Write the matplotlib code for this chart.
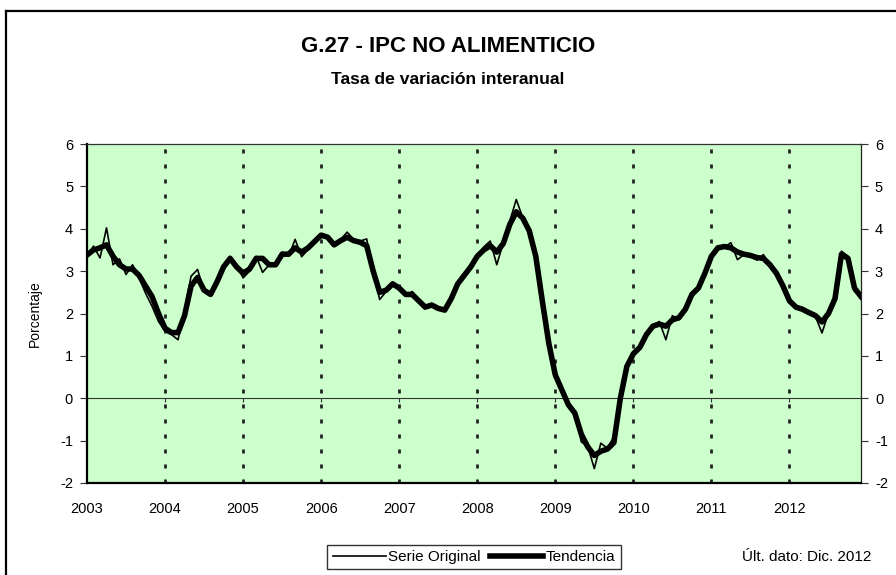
import matplotlib
matplotlib.use("Agg")
import matplotlib.pyplot as plt
from matplotlib.lines import Line2D

plt.rcParams['font.family'] = ['Liberation Sans', 'DejaVu Sans']
plt.rcParams['axes.unicode_minus'] = False

# datos mensuales ene-2003 .. dic-2012
years = [2003, 2004, 2005, 2006, 2007, 2008, 2009, 2010, 2011, 2012]

serie_original = [
    3.35, 3.59, 3.31, 4.02, 3.15, 3.29, 2.92, 3.15, 2.84, 2.48, 2.17, 1.81,
    1.58, 1.50, 1.38, 2.09, 2.88, 3.04, 2.52, 2.41, 2.80, 3.12, 3.35, 3.15,
    2.84, 3.00, 3.35, 2.97, 3.15, 3.13, 3.45, 3.35, 3.75, 3.34, 3.51, 3.75,
    3.86, 3.79, 3.59, 3.75, 3.92, 3.75, 3.71, 3.76, 2.96, 2.33, 2.52, 2.74,
    2.56, 2.41, 2.52, 2.33, 2.11, 2.21, 2.13, 2.05, 2.33, 2.72, 2.89, 3.08,
    3.35, 3.57, 3.71, 3.15, 3.67, 4.18, 4.69, 4.26, 4.00, 3.35, 2.33, 1.30,
    0.55, 0.20, -0.20, -0.32, -1.03, -1.14, -1.66, -1.06, -1.18, -0.91, 0.04, 0.75,
    1.06, 1.22, 1.54, 1.73, 1.81, 1.38, 1.95, 1.85, 2.12, 2.48, 2.60, 2.96,
    3.39, 3.59, 3.57, 3.67, 3.27, 3.39, 3.34, 3.26, 3.39, 3.12, 2.96, 2.64,
    2.26, 2.13, 2.09, 2.01, 1.93, 1.54, 2.01, 2.33, 3.47, 3.35, 2.52, 2.41,
]

tendencia = [
    3.38, 3.50, 3.55, 3.62, 3.35, 3.15, 3.05, 3.05, 2.90, 2.65, 2.40, 2.00,
    1.65, 1.55, 1.55, 1.95, 2.65, 2.85, 2.55, 2.45, 2.75, 3.10, 3.30, 3.10,
    2.95, 3.05, 3.30, 3.30, 3.15, 3.15, 3.40, 3.40, 3.55, 3.45, 3.55, 3.70,
    3.85, 3.80, 3.62, 3.72, 3.80, 3.72, 3.68, 3.60, 3.00, 2.50, 2.55, 2.70,
    2.60, 2.45, 2.45, 2.30, 2.15, 2.20, 2.12, 2.08, 2.35, 2.70, 2.90, 3.10,
    3.35, 3.50, 3.60, 3.45, 3.65, 4.10, 4.40, 4.25, 3.95, 3.35, 2.30, 1.30,
    0.55, 0.20, -0.15, -0.35, -0.85, -1.15, -1.35, -1.25, -1.20, -1.05, 0.00, 0.75,
    1.05, 1.20, 1.50, 1.70, 1.75, 1.70, 1.85, 1.90, 2.10, 2.45, 2.60, 2.95,
    3.35, 3.55, 3.58, 3.55, 3.45, 3.40, 3.37, 3.32, 3.30, 3.15, 2.95, 2.65,
    2.30, 2.15, 2.10, 2.02, 1.95, 1.80, 2.00, 2.35, 3.40, 3.30, 2.60, 2.40,
]

months = list(range(len(serie_original)))
year_pos = [12 * k for k in range(len(years))]

fig = plt.figure(figsize=(8.96, 5.75), dpi=100)
ax = fig.add_axes([87 / 896, 1 - 483 / 575, 774 / 896, 339 / 575])
ax.set_facecolor('#CCFFCC')

# lineas verticales punteadas en cada enero
for xp in year_pos[1:]:
    ax.axvline(xp, color='#222222', lw=2.0, linestyle=(0, (1.45, 3.95)), zorder=1)
ax.axhline(0, color='#333333', lw=0.8, zorder=1)
ax.vlines(year_pos[1:], -0.1, 0, color='#333333', lw=0.8, zorder=1)

ax.plot(months, tendencia, color='black', lw=4, solid_joinstyle='round', zorder=3, label='Tendencia')
ax.plot(months, serie_original, color='black', lw=1.2, zorder=4, label='Serie Original')

ax.set_xlim(0, 119)
ax.set_ylim(-2, 6)
ax.set_yticks(range(-2, 7))
ax.set_xticks(year_pos)
ax.set_xticklabels([str(y) for y in years])
ax.tick_params(axis='x', length=0, pad=14, labelsize=10.5)
ax.tick_params(axis='y', length=5, width=0.8, color='#333333', labelsize=10.5,
               left=True, right=True, labelleft=True, labelright=True, pad=5)
ax.set_ylabel('Porcentaje', fontsize=10, labelpad=13)

ax.spines['left'].set_linewidth(1.6)
ax.spines['bottom'].set_linewidth(1.6)
ax.spines['top'].set_color('#333333')
ax.spines['right'].set_color('#222222')
ax.spines['top'].set_linewidth(0.9)
ax.spines['right'].set_linewidth(0.9)

fig.text(0.5, 1 - 46 / 575, 'G.27 - IPC NO ALIMENTICIO', ha='center', va='center',
         fontsize=16, fontweight='bold')
fig.text(0.5, 1 - 79 / 575, 'Tasa de variación interanual', ha='center', va='center',
         fontsize=12.6, fontweight='bold')

handles = [Line2D([], [], color='black', lw=1.2), Line2D([], [], color='black', lw=4)]
leg = fig.legend(handles, ['Serie Original', 'Tendencia'], loc='center',
                 bbox_to_anchor=(474 / 896, 1 - 557 / 575), ncol=2, fontsize=11,
                 frameon=True, fancybox=False, edgecolor='black', handlelength=3.5,
                 handletextpad=0.15, columnspacing=0.6, borderpad=0.35)
leg.get_frame().set_linewidth(1.0)

fig.text(742 / 896, 1 - 557 / 575, 'Últ. dato: Dic. 2012', ha='left', va='center', fontsize=11)

# marco del grafico
fig.add_artist(Line2D([6 / 896, 6 / 896], [0, 1 - 11 / 575], color='black', lw=1.6,
                      transform=fig.transFigure))
fig.add_artist(Line2D([6 / 896, 1], [1 - 11 / 575, 1 - 11 / 575], color='black', lw=1.6,
                      transform=fig.transFigure))

fig.savefig('out.png', dpi=100)
